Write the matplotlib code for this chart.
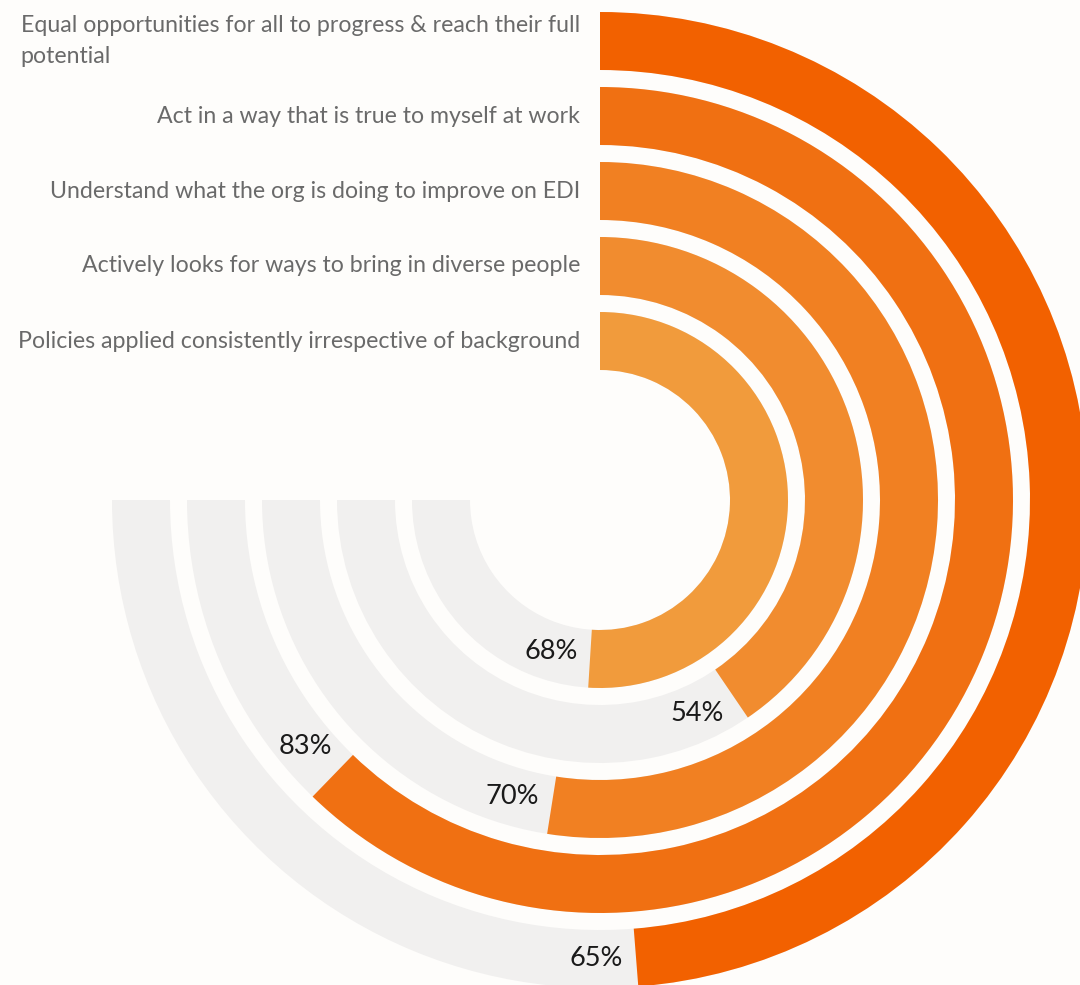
import numpy as np
import matplotlib.pyplot as plt

plt.rcParams["font.family"] = ["Lato", "DejaVu Sans"]

# rings listed from the outside in
categories = [
    "Equal opportunities for all to progress & reach their full\npotential",
    "Act in a way that is true to myself at work",
    "Understand what the org is doing to improve on EDI",
    "Actively looks for ways to bring in diverse people",
    "Policies applied consistently irrespective of background",
]
values = [65, 83, 70, 54, 68]
colours = ["#F26100", "#F07012", "#F18022", "#F18C2F", "#F19B3C"]

TRACK = "#F1F0EF"
PAPER = "#FEFDFB"
SPAN = 1.5 * np.pi          # full scale (100%) = 270 degrees
R_MAX = 488
RING = 58
STEP = 75

W, H, DPI = 1080, 985, 100
cx, cy = 600, 500           # centre of the rings in pixels

fig = plt.figure(figsize=(W / DPI, H / DPI), dpi=DPI)
fig.patch.set_facecolor(PAPER)
ax = fig.add_axes([(cx - R_MAX) / W, (H - cy - R_MAX) / H,
                   2 * R_MAX / W, 2 * R_MAX / H], projection="polar")
ax.set_theta_zero_location("N")
ax.set_theta_direction(-1)
ax.set_ylim(0, R_MAX)
ax.axis("off")

for i, (label, v, c) in enumerate(zip(categories, values, colours)):
    outer = R_MAX - i * STEP
    inner = outer - RING
    mid = (inner + outer) / 2
    end = SPAN * v / 100
    ax.bar(SPAN / 2, RING, width=SPAN, bottom=inner, color=TRACK,
           edgecolor="none", align="center", clip_on=False)
    ax.bar(end / 2, RING, width=end, bottom=inner, color=c,
           edgecolor="none", align="center", clip_on=False)
    ax.text(end + 40 / mid, mid, f"{v}%", ha="center", va="center",
            fontsize=19.5, color="#1A1A1A")
    ax.annotate(label, xy=(0, mid), xytext=(-20, 0), textcoords="offset pixels",
                ha="right", va="center", multialignment="left",
                fontsize=16.7, color="#6A6A6A", linespacing=1.55,
                annotation_clip=False)

fig.savefig("out.png", dpi=DPI, facecolor=PAPER)
